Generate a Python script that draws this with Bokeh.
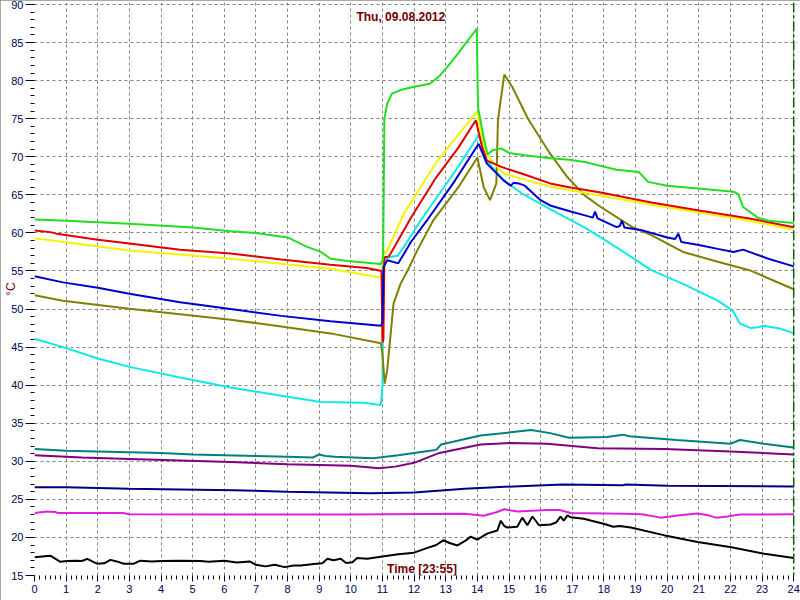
import math
from bokeh.plotting import figure
from bokeh.models import Range1d, SingleIntervalTicker, Label, Span
from bokeh.embed import file_html
from bokeh.resources import INLINE

TITLE = "Thu, 09.08.2012"
XLABEL = "Time [23:55]"
YLABEL = "°C"

# green
G_h = [0, 1, 3, 5, 6.2, 7, 8, 8.6, 9.05, 9.36, 9.9, 10.95, 11.02, 11.06, 11.15, 11.3, 11.6, 12.0, 12.5, 12.8,
       13.05, 13.4, 13.7, 13.98, 14.02, 14.2, 14.32, 14.5, 14.75, 15.0, 15.5, 16.3, 16.9, 17.4, 18.4, 19.1, 19.4,
       20.0, 21.06, 22.1, 22.25, 22.4, 22.86, 23.2, 24]
G_v = [61.75, 61.6, 61.2, 60.7, 60.2, 60.0, 59.4, 58.2, 57.5, 56.6, 56.3, 55.9, 56.5, 75.0, 77.0, 78.3, 78.8, 79.2,
       79.6, 80.6, 81.8, 83.6, 85.3, 86.8, 76.5, 72.5, 70.3, 70.9, 71.1, 70.5, 70.2, 69.8, 69.6, 69.3, 68.3, 68.0,
       66.7, 66.2, 65.8, 65.4, 65.1, 63.4, 62.0, 61.6, 61.3]
# red
R_h = [0, 0.5, 0.7, 2, 3, 4.6, 6.2, 7.8, 9.36, 10.5, 10.97, 11.0, 11.03, 11.06, 11.2, 11.4, 11.9, 12.7, 13.4, 13.95,
       14.15, 14.3, 14.8, 15.4, 16.3, 16.9, 17.9, 19.5, 21.06, 22.6, 24]
R_v = [60.3, 60.1, 59.9, 59.1, 58.6, 57.8, 57.3, 56.5, 55.8, 55.4, 55.0, 45.6, 46.0, 56.8, 56.9, 58.3, 62.0, 67.3,
       71.2, 74.8, 71.3, 69.5, 68.6, 67.8, 66.5, 66.0, 65.3, 64.0, 62.9, 61.9, 60.75]
# yellow
Y_h = [0, 3, 6.2, 9.36, 10.97, 11.0, 11.03, 11.1, 11.3, 11.67, 12.74, 13.98, 14.1, 14.26, 14.83, 15.9, 16.3, 16.95,
       19.5, 22.6, 24]
Y_v = [59.3, 57.7, 56.6, 55.3, 54.1, 57.0, 57.7, 57.3, 59.0, 62.5, 69.5, 75.9, 73.4, 70.4, 67.8, 66.5, 66.1, 65.6,
       63.7, 61.6, 60.4]
# cyan
C_h = [0, 0.9, 2, 3, 4.6, 6.2, 7.8, 9.05, 10.4, 10.95, 11.0, 11.03, 11.2, 11.48, 11.7, 12.2, 13.25, 14.04, 14.3,
       14.83, 15.4, 16.4, 17.4, 18.4, 19.1, 19.5, 20.5, 21.6, 22.07, 22.3, 22.64, 22.86, 23.05, 23.6, 24]
C_v = [46.1, 45.0, 43.5, 42.4, 41.0, 39.7, 38.6, 37.8, 37.7, 37.4, 40.0, 56.4, 56.8, 57.0, 58.3, 61.6, 67.8, 72.8,
       69.5, 66.9, 65.2, 62.9, 60.7, 58.1, 56.2, 55.1, 53.3, 51.1, 49.8, 48.1, 47.5, 47.6, 47.8, 47.4, 46.8]
# blue
B_h = [0, 0.9, 2, 3, 4.6, 6.2, 7.8, 9.36, 10.95, 11.0, 11.03, 11.15, 11.5, 11.9, 12.4, 13.25, 14.04, 14.3, 14.83,
       15.05, 15.15, 15.3, 15.5, 16.0, 16.3, 16.95, 17.4, 17.65, 17.72, 17.8, 18.4, 18.5, 18.57, 18.65, 19.25, 20.0,
       20.25, 20.35, 20.45, 21.0, 21.6, 22.1, 22.4, 23.2, 24]
B_v = [54.3, 53.5, 52.8, 52.0, 50.9, 50.0, 49.1, 48.4, 47.8, 48.2, 55.5, 56.4, 56.0, 58.8, 61.6, 66.6, 71.7, 69.1,
       66.9, 66.2, 66.6, 66.5, 66.2, 64.3, 63.6, 62.8, 62.3, 62.0, 62.8, 61.9, 60.75, 60.9, 61.6, 60.7, 60.3, 59.4,
       59.2, 59.9, 58.8, 58.4, 57.9, 57.5, 57.8, 56.6, 55.6]
# olive
O_h = [0, 0.9, 3, 6.2, 7.8, 9.36, 10.95, 11.0, 11.07, 11.15, 11.35, 11.57, 11.8, 12.1, 12.6, 13.4, 14.0, 14.2, 14.4,
       14.6, 14.65, 14.85, 15.1, 15.6, 16.3, 16.85, 17.4, 17.9, 18.9, 19.5, 20.5, 21.6, 22.6, 24]
O_v = [51.8, 51.1, 50.05, 48.6, 47.7, 46.8, 45.5, 44.0, 40.2, 42.0, 50.7, 53.3, 55.1, 57.7, 61.6, 66.0, 69.9, 66.0,
       64.3, 66.5, 74.8, 80.8, 79.2, 75.0, 70.4, 67.3, 64.9, 63.4, 60.75, 59.7, 57.5, 56.2, 55.1, 52.6]
# teal
T_h = [0, 1, 2, 3, 4, 5, 6, 7, 8, 8.8, 9.0, 9.2, 9.5, 10.7, 11.5, 12.5, 12.7, 12.85, 14.1, 15.05, 15.7, 16.3, 16.9,
       18.1, 18.6, 18.8, 20.3, 22.0, 22.3, 23.05, 24]
T_v = [31.6, 31.4, 31.3, 31.2, 31.1, 30.9, 30.8, 30.7, 30.6, 30.5, 30.9, 30.7, 30.6, 30.4, 30.8, 31.4, 31.5, 32.2,
       33.4, 33.8, 34.1, 33.7, 33.1, 33.2, 33.5, 33.3, 32.8, 32.3, 32.8, 32.3, 31.8]
# purple
P_h = [0, 1.5, 3, 6.2, 8, 10, 10.9, 11.4, 12.0, 12.8, 14.1, 15.05, 16.2, 17.8, 19.9, 22.0, 24]
P_v = [30.8, 30.5, 30.3, 29.9, 29.6, 29.4, 29.1, 29.3, 29.8, 31.1, 32.2, 32.4, 32.3, 31.7, 31.6, 31.3, 30.9]
# navy
N_h = [0, 1, 3, 4.6, 6.3, 8, 10.6, 12.0, 13.6, 15.15, 16.7, 18.6, 18.7, 20, 24]
N_v = [26.6, 26.6, 26.4, 26.3, 26.2, 26.0, 25.8, 25.9, 26.4, 26.7, 26.95, 26.85, 26.95, 26.8, 26.7]
# magenta
M_h = [0, 0.4, 0.65, 0.75, 2.8, 3.0, 6.3, 10, 13.6, 14.2, 14.6, 14.85, 15.27, 16.2, 16.6, 16.95, 18.6, 19.2, 19.8,
       20.4, 20.95, 21.3, 21.55, 21.9, 22.3, 24]
M_v = [23.2, 23.4, 23.35, 23.2, 23.2, 23.05, 23.0, 23.0, 23.1, 22.85, 23.3, 23.7, 23.4, 23.6, 23.6, 23.2, 23.1, 23.05,
       22.6, 22.9, 23.15, 22.9, 22.6, 22.75, 23.0, 23.05]
# black
K_h = [0, 0.5, 0.82, 1.03, 1.3, 1.5, 1.67, 1.87, 1.98, 2.2, 2.4, 2.6, 2.82, 3.14, 3.35, 3.7, 4.0, 4.6, 5.25, 5.5,
       6.0, 6.4, 6.8, 7.0, 7.3, 7.6, 7.9, 8.2, 8.42, 8.83, 9.1, 9.26, 9.45, 9.68, 9.85, 10.05, 10.2, 10.52, 11.0, 11.5,
       12.0, 12.4, 12.7, 12.93, 13.1, 13.37, 13.6, 13.79, 14.0, 14.31, 14.63, 14.74, 14.85, 14.95, 15.26, 15.42, 15.58,
       15.74, 15.95, 16.32, 16.5, 16.63, 16.73, 16.85, 16.95, 17.36, 17.99, 18.3, 18.5, 18.85, 19.89, 20.96, 22.03,
       23.07, 24]
K_v = [17.4, 17.6, 16.8, 16.9, 16.95, 16.9, 17.18, 16.75, 16.55, 16.6, 17.05, 16.85, 16.55, 16.55, 16.95, 16.85, 16.9,
       16.95, 16.9, 16.8, 16.95, 16.7, 16.85, 16.4, 16.2, 16.4, 16.1, 16.3, 16.3, 16.5, 16.6, 17.2, 17.0, 17.2, 16.65,
       16.75, 17.3, 17.2, 17.5, 17.8, 18.0, 18.6, 19.0, 19.65, 19.3, 18.95, 19.5, 20.1, 19.7, 20.5, 20.9, 22.2, 21.5,
       21.3, 21.4, 22.6, 21.6, 22.75, 21.6, 21.7, 22.0, 22.75, 22.2, 22.9, 22.65, 22.45, 21.8, 21.4, 21.5, 21.3, 20.3,
       19.4, 18.7, 17.85, 17.3]

SERIES = [
    (K_h, K_v, "#000000"),
    (M_h, M_v, "#e020e0"),
    (N_h, N_v, "#000080"),
    (P_h, P_v, "#800080"),
    (T_h, T_v, "#008080"),
    (C_h, C_v, "#10e8e8"),
    (O_h, O_v, "#808000"),
    (Y_h, Y_v, "#f4f400"),
    (R_h, R_v, "#e00000"),
    (B_h, B_v, "#0000cc"),
    (G_h, G_v, "#22dd22"),
]

p = figure(width=800, height=600, x_range=Range1d(0, 24.12), y_range=Range1d(15, 90.26),
           output_backend="svg", toolbar_location=None,
           min_border_left=34, min_border_right=3, min_border_top=2, min_border_bottom=25)
p.background_fill_color = "white"
p.border_fill_color = "white"
p.outline_line_color = None
p.styles = {"outline": "2px solid #8c8c8c", "outline-offset": "-2px"}

xt = SingleIntervalTicker(interval=1, num_minor_ticks=6)
yt = SingleIntervalTicker(interval=5, num_minor_ticks=5)
p.xaxis.ticker = xt
p.yaxis.ticker = yt
p.xgrid.ticker = xt
p.ygrid.ticker = yt

for ax in p.axis:
    ax.axis_line_color = None
    ax.major_tick_line_color = "#000030"
    ax.minor_tick_line_color = "#000030"
    ax.major_label_text_color = "#00005a"
    ax.major_label_text_font = "Liberation Sans"
    ax.major_label_text_font_size = "11px"
    ax.major_tick_in = 0
    ax.minor_tick_in = 0
p.yaxis.major_tick_out = 9
p.yaxis.minor_tick_out = 4
p.yaxis.major_label_standoff = 2
p.xaxis.major_tick_out = 6
p.xaxis.minor_tick_out = 4
p.xaxis.major_label_standoff = 3

p.yaxis.axis_label = YLABEL
p.yaxis.axis_label_text_color = "#800000"
p.yaxis.axis_label_text_font = "Liberation Sans"
p.yaxis.axis_label_text_font_style = "normal"
p.yaxis.axis_label_text_font_size = "12px"
p.yaxis.axis_label_standoff = -10

for g in (p.xgrid, p.ygrid):
    g.grid_line_color = "#808080"
    g.grid_line_dash = "3 3"
    g.grid_line_width = 1

for h, v, c in SERIES:
    p.line(h, v, line_color=c, line_width=2)

p.add_layout(Span(location=24, dimension="height", line_color="#006400", line_dash="10 3 3 3", line_width=1.5))

p.add_layout(Label(x=11.58, y=88.3, text=TITLE, text_color="#700000", text_font="Liberation Sans",
                   text_font_style="bold", text_font_size="12px", text_align="center", text_baseline="middle"))
p.add_layout(Label(x=12.25, y=15.8, text=XLABEL, text_color="#700000", text_font="Liberation Sans",
                   text_font_style="bold", text_font_size="12px", text_align="center", text_baseline="middle"))

open("out.html", "w").write(file_html(p, INLINE))
